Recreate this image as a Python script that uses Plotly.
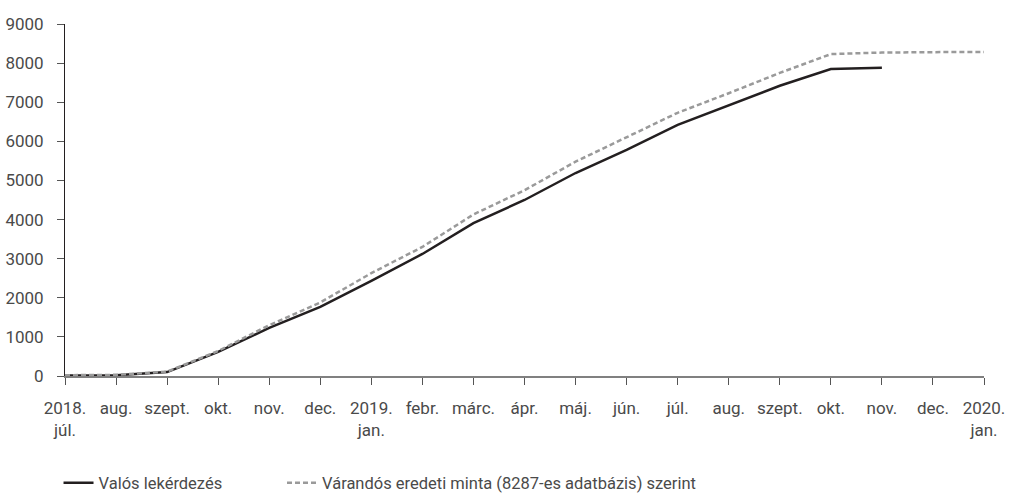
import plotly.graph_objects as go

months = ["2018.<br>júl.", "aug.", "szept.", "okt.", "nov.", "dec.", "2019.<br>jan.", "febr.", "márc.",
          "ápr.", "máj.", "jún.", "júl.", "aug.", "szept.", "okt.", "nov.", "dec.", "2020.<br>jan."]
actual = [10, 20, 100, 615, 1230, 1765, 2430, 3120, 3910, 4500, 5190, 5780, 6420, 6930, 7420, 7850, 7880]
expected = [20, 30, 110, 640, 1300, 1880, 2630, 3300, 4130, 4750, 5480, 6100, 6730, 7230, 7750, 8230, 8270, 8280, 8287]
yticks = [0, 1000, 2000, 3000, 4000, 5000, 6000, 7000, 8000, 9000]

FONT = "Roboto, sans-serif"
TXT = "#4a4a4a"

fig = go.Figure()
fig.add_trace(go.Scatter(x=list(range(len(actual))), y=actual, mode="lines",
                         name="Valós lekérdezés", line=dict(color="#231f20", width=2.5),
                         legend="legend"))
fig.add_trace(go.Scatter(x=list(range(len(expected))), y=expected, mode="lines",
                         name="Várandós eredeti minta (8287-es adatbázis) szerint",
                         line=dict(color="#9a9a9a", width=2.5, dash="5px,3px"),
                         legend="legend2"))

leg_common = dict(orientation="h", yref="container", xref="container", yanchor="middle", y=0.026,
                  xanchor="left", font=dict(size=16.5, color=TXT), bgcolor="rgba(0,0,0,0)",
                  borderwidth=0, itemwidth=30)

fig.update_layout(
    width=1009, height=496,
    margin=dict(l=65, r=25, t=24, b=120),
    paper_bgcolor="white", plot_bgcolor="white",
    font=dict(family=FONT, size=17, color=TXT),
    showlegend=True,
    legend=dict(x=0.058, **leg_common),
    legend2=dict(x=0.2795, **leg_common),
    xaxis=dict(range=[0, 18], tickmode="array", tickvals=list(range(len(months))), ticktext=months,
               showgrid=False, zeroline=False, showline=True, linecolor="#808080", linewidth=1.5,
               ticks="outside", ticklen=7, tickcolor="#555", tickwidth=1, automargin=False,
               tickfont=dict(size=17), ticklabelstandoff=9),
    yaxis=dict(range=[0, 9000], tickmode="array", tickvals=yticks,
               showgrid=False, zeroline=False, showline=True, linecolor="#231f20", linewidth=1,
               ticks="outside", ticklen=7, tickcolor="#555", tickwidth=1, automargin=False,
               tickfont=dict(size=17), ticklabelstandoff=10),
)

fig.write_html("out.html", config={"displayModeBar": False},
               post_script="document.body.style.margin='0';")
